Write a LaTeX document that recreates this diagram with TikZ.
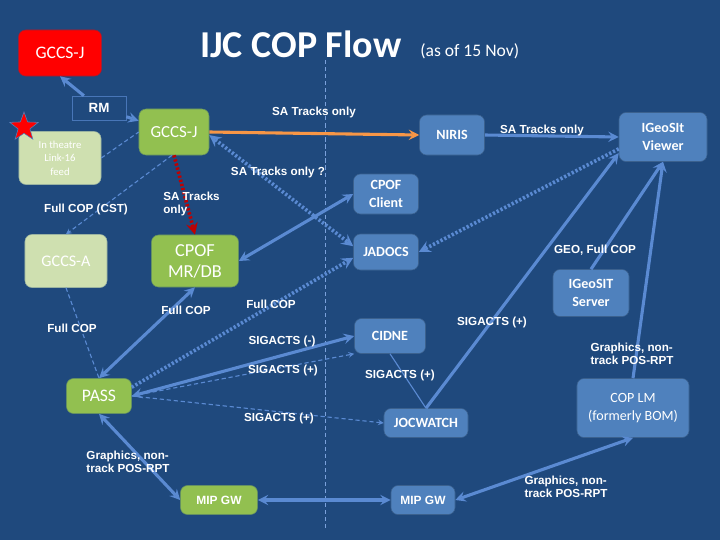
\documentclass[tikz,border=0pt]{standalone}
\usepackage{fontspec}
\setmainfont{Liberation Sans}
\newfontfamily\calibri{Carlito}
\usetikzlibrary{shapes.geometric}
\definecolor{slidebg}{HTML}{1F497D}
\definecolor{boxblue}{HTML}{4F81BD}
\definecolor{boxgreen}{HTML}{92C050}
\definecolor{boxpale}{HTML}{CFE0B0}
\definecolor{linkblue}{HTML}{5A8AD2}
\definecolor{trackorange}{HTML}{F79646}
\definecolor{trackred}{HTML}{C00000}
\begin{document}
\begin{tikzpicture}[x=0.025cm,y=-0.025cm,>=stealth,
  box/.style={rounded corners=5pt,text=white,align=center,inner sep=1pt},
  bluebox/.style={box,fill=boxblue,draw=boxblue!75!black,font=\calibri\bfseries\fontsize{10}{12.5}\selectfont},
  greenbox/.style={box,fill=boxgreen,draw=boxgreen!60!slidebg,font=\calibri\fontsize{12.5}{15}\selectfont},
  palebox/.style={box,fill=boxpale,draw=boxpale!70!slidebg,font=\calibri\fontsize{11.5}{14}\selectfont},
  lbl/.style={text=white,font=\bfseries\fontsize{8.3}{9.6}\selectfont,align=left,inner sep=0pt},
  link/.style={draw=linkblue,line width=2.2pt},
  dotlink/.style={draw=linkblue,line width=2.6pt,dash pattern=on 1.6pt off 1.4pt},
  thinlink/.style={draw=linkblue,line width=0.8pt,dash pattern=on 3pt off 2pt}]
  \fill[slidebg] (0,0) rectangle (720,540);
  \draw[linkblue!80!white,line width=0.5pt,dash pattern=on 3pt off 2pt] (325,60) -- (325,530);
  \node[text=white,font=\calibri\bfseries\fontsize{27}{30}\selectfont,anchor=base west,inner sep=0pt] (title) at (200,57) {IJC COP Flow};
  \node[text=white,font=\calibri\fontsize{12.5}{14}\selectfont,anchor=base west,inner sep=0pt] (date) at (420,56) {(as of 15 Nov)};
  \node[box,fill=red,draw=red!55!slidebg,minimum width=2.075cm,minimum height=1.15cm,font=\calibri\fontsize{12.5}{15}\selectfont] (gccsjr) at (60,53) {GCCS-J};
  \node[draw=linkblue!70!slidebg,fill=slidebg,text=white,font=\bfseries\fontsize{9.5}{11}\selectfont,minimum width=1.35cm,minimum height=0.6cm,inner sep=1pt] (rm) at (99,108) {RM};
  \node[palebox,minimum width=2.05cm,minimum height=1.325cm,font=\calibri\fontsize{7.6}{9.6}\selectfont] (feed) at (60,158) {In theatre\\Link-16\\feed};
  \node[star,star points=5,star point ratio=2.4,fill=red,draw=boxblue,minimum size=0.75cm,inner sep=0pt] (star) at (24,127) {};
  \node[greenbox,minimum width=1.75cm,minimum height=1.15cm,font=\calibri\fontsize{12}{15}\selectfont] (gccsj) at (174,132) {GCCS-J};
  \node[bluebox,minimum width=1.625cm,minimum height=1cm] (niris) at (452,135) {NIRIS};
  \node[bluebox,minimum width=2.2cm,minimum height=1.225cm] (viewer) at (663,137) {IGeoSIt\\Viewer};
  \node[bluebox,minimum width=1.625cm,minimum height=1cm] (client) at (386,194) {CPOF\\Client};
  \node[bluebox,minimum width=1.625cm,minimum height=0.9cm] (jadocs) at (386,252) {JADOCS};
  \node[palebox,minimum width=2.05cm,minimum height=1.325cm] (gccsa) at (66,261) {GCCS-A};
  \node[greenbox,minimum width=2.175cm,minimum height=1.3cm,font=\calibri\fontsize{13}{15}\selectfont] (cpofmr) at (195,261) {CPOF\\MR/DB};
  \node[bluebox,minimum width=1.9cm,minimum height=1.175cm] (server) at (591,293) {IGeoSIT\\Server};
  \node[bluebox,minimum width=1.775cm,minimum height=0.875cm] (cidne) at (390,336) {CIDNE};
  \node[bluebox,minimum width=2.1cm,minimum height=0.725cm] (jocwatch) at (426,423) {JOCWATCH};
  \node[bluebox,minimum width=2.8cm,minimum height=1.475cm,font=\calibri\fontsize{10}{12.6}\selectfont] (coplm) at (633,408) {COP LM\\(formerly BOM)};
  \node[bluebox,minimum width=1.6cm,minimum height=0.725cm,font=\bfseries\fontsize{8.5}{10}\selectfont] (mipr) at (423,500) {MIP GW};
  \node[greenbox,minimum width=1.925cm,minimum height=0.725cm,font=\bfseries\fontsize{8.5}{10}\selectfont] (mipl) at (219,500) {MIP GW};
  \node[greenbox,minimum width=1.625cm,minimum height=0.875cm] (pass) at (99,396) {PASS};
  \draw[link,->] (rm) -- (gccsjr.south);
  \draw[link,->] (rm) -- (gccsj);
  \draw[draw=trackorange,line width=2.2pt,->] (gccsj.east) -- (niris.west);
  \draw[link,->] (niris.east) -- (viewer.west);
  \draw[dotlink,<->] (gccsj.-5) -- (jadocs.170);
  \draw[draw=trackred,line width=2.6pt,dash pattern=on 1.6pt off 1.4pt,->] (gccsj.south) -- (cpofmr.north);
  \draw[thinlink] (feed.east) -- (gccsj.west);
  \draw[thinlink,->] (gccsj.-95) -- (gccsa.north);
  \draw[thinlink] (gccsa.south) -- (pass.north);
  \draw[link,<->] (cpofmr.south) -- (pass.north);
  \draw[link,<->] (cpofmr.east) -- (client.west);
  \draw[dotlink,->] (viewer.195) -- (jadocs.east);
  \draw[dotlink,->] (pass.15) -- (jadocs.190);
  \draw[link,<->] (pass.east) -- (cidne.west);
  \draw[thinlink,->] (pass.east) -- (cidne.south west);
  \draw[thinlink,->] (pass.east) -- (jocwatch.west);
  \draw[link,->] (jocwatch.north) -- (viewer.200);
  \draw[draw=linkblue,line width=0.8pt] (cidne.south) -- (jocwatch.north);
  \draw[link,->] (server.north) -- (viewer.south);
  \draw[link,->] (coplm.north) -- (viewer.south);
  \draw[link,<->] (coplm.south) -- (mipr.east);
  \draw[link,<->] (mipr.west) -- (mipl.east);
  \draw[link,<->] (pass.south) -- (mipl.west);
  \node[lbl] (la) at (314,112) {SA Tracks only};
  \node[lbl] (lb) at (542,130) {SA Tracks only};
  \node[lbl] (lc) at (278,172) {SA Tracks only ?};
  \node[lbl,anchor=west] (ld) at (163,204) {SA Tracks\\only};
  \node[lbl] (le) at (86,209) {Full COP (CST)};
  \node[lbl] (lf) at (595,250) {GEO, Full COP};
  \node[lbl] (lg) at (186,310) {Full COP};
  \node[lbl] (lh) at (271,304) {Full COP};
  \node[lbl] (li) at (72,328) {Full COP};
  \node[lbl] (lj) at (282,341) {SIGACTS (-)};
  \node[lbl] (lk) at (283,370) {SIGACTS (+)};
  \node[lbl] (ll) at (279,418) {SIGACTS (+)};
  \node[lbl] (lm) at (492,322) {SIGACTS (+)};
  \node[lbl] (ln) at (400,375) {SIGACTS (+)};
  \node[lbl] (lo) at (632,354) {Graphics, non-\\track POS-RPT};
  \node[lbl] (lp) at (128,462) {Graphics, non-\\track POS-RPT};
  \node[lbl] (lq) at (566,487) {Graphics, non-\\track POS-RPT};
\end{tikzpicture}
\end{document}
